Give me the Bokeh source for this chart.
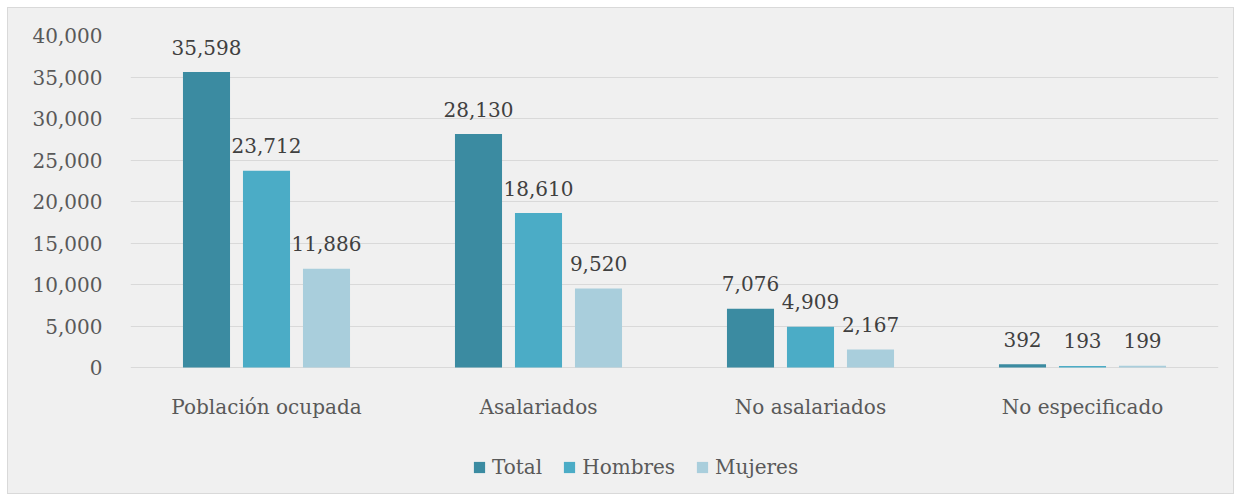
from bokeh.plotting import figure
from bokeh.models import (FactorRange, FixedTicker, NumeralTickFormatter, ColumnDataSource,
                          Legend, LegendItem, Range1d)
from bokeh.transform import dodge
from bokeh.core.properties import value
from bokeh.embed import file_html
from bokeh.resources import INLINE

categories = ["Población ocupada", "Asalariados", "No asalariados", "No especificado"]
total = [35598, 28130, 7076, 392]
hombres = [23712, 18610, 4909, 193]
mujeres = [11886, 9520, 2167, 199]
series_names = ["Total", "Hombres", "Mujeres"]
y_ticks = [0, 5000, 10000, 15000, 20000, 25000, 30000, 35000, 40000]

colors = ["#3B8BA1", "#4BACC6", "#A9CEDC"]
FONT = "DejaVu Serif"
FS = "20px"
BG = "#f0f0f0"

src = ColumnDataSource(dict(
    cat=categories, total=total, hombres=hombres, mujeres=mujeres,
    total_lbl=[f"{v:,}" for v in total],
    hombres_lbl=[f"{v:,}" for v in hombres],
    mujeres_lbl=[f"{v:,}" for v in mujeres],
))
cat_src = ColumnDataSource(dict(cat=categories, y=[0] * len(categories)))

# layout (canvas pixels)
W, H = 1227, 487
TOP, LEFT, RIGHT, BOTTOM = 27, 122, 17, 5
frame_h = H - TOP - BOTTOM
data_px = 332  # pixels between 0 and 40,000
y_max = y_ticks[-1]
y_min = -y_max * (frame_h - data_px) / data_px

p = figure(x_range=FactorRange(*categories, range_padding=0), y_range=Range1d(y_min, y_max),
           width=W, height=H, output_backend="svg", toolbar_location=None,
           min_border_left=LEFT, min_border_right=RIGHT, min_border_top=TOP,
           min_border_bottom=BOTTOM)
p.background_fill_color = BG
p.border_fill_color = BG
p.outline_line_color = None
p.styles = {"border": "1px solid #d9d9d9", "margin": "7px", "background-color": BG}

offsets = [-0.2206, 0.0, 0.2206]
keys = ["total", "hombres", "mujeres"]
renderers = []
for k, off, c in zip(keys, offsets, colors):
    r = p.vbar(x=dodge("cat", off, range=p.x_range), top=k, width=0.173, source=src,
               fill_color=c, line_color=None)
    renderers.append(r)
    p.text(x=dodge("cat", off, range=p.x_range), y=k, text=k + "_lbl", source=src,
           text_align="center", text_baseline="alphabetic", y_offset=-25,
           text_font=value(FONT), text_font_size=FS, text_color="#404040")

# category labels
p.text(x="cat", y="y", text="cat", source=cat_src, text_align="center",
       text_baseline="middle", y_offset=39, text_font=value(FONT),
       text_font_size=FS, text_color="#595959")

# axes
p.yaxis.ticker = FixedTicker(ticks=y_ticks)
p.yaxis.formatter = NumeralTickFormatter(format="0,0")
p.yaxis.axis_line_color = None
p.yaxis.major_tick_line_color = None
p.yaxis.minor_tick_line_color = None
p.yaxis.major_label_standoff = 22
p.yaxis.major_label_text_font = FONT
p.yaxis.major_label_text_font_size = FS
p.yaxis.major_label_text_color = "#595959"
p.xaxis.visible = False

p.xgrid.grid_line_color = None
p.ygrid.grid_line_color = "#d9d9d9"
p.ygrid.ticker = FixedTicker(ticks=y_ticks)

legend = Legend(items=[LegendItem(label=n, renderers=[r]) for n, r in zip(series_names, renderers)],
                orientation="horizontal", location=(342, 11))
legend.background_fill_alpha = 0
legend.border_line_color = None
legend.padding = 0
legend.margin = 0
legend.spacing = 20
legend.glyph_width = 14
legend.glyph_height = 14
legend.label_height = 14
legend.label_standoff = 6
legend.label_text_font = FONT
legend.label_text_font_size = FS
legend.label_text_color = "#595959"
p.add_layout(legend, "center")

open("out.html", "w").write(file_html(p, INLINE))
